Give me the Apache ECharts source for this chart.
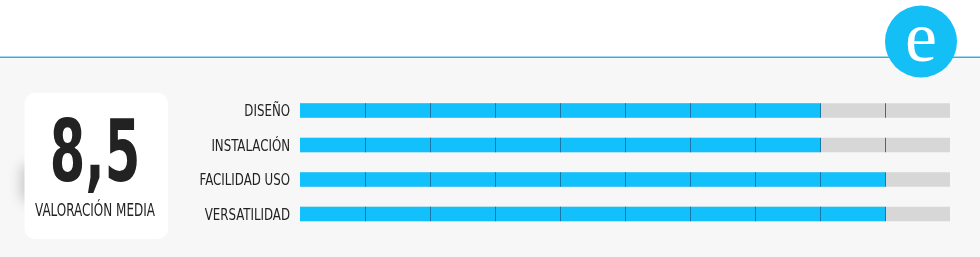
<!DOCTYPE html>
<html>
<head>
<meta charset="utf-8">
<script src="https://cdn.jsdelivr.net/npm/echarts@6/dist/echarts.min.js"></script>
<style>
html,body{margin:0;padding:0;background:#fff;}
#chart{width:980px;height:257px;}
</style>
</head>
<body>
<div id="chart"></div>
<script>
const categories = ['DISEÑO', 'INSTALACIÓN', 'FACILIDAD USO', 'VERSATILIDAD'];
const scores = [8, 8, 9, 9];
const maxScore = 10;
const averageLabel = '8,5';
const averageCaption = 'VALORACIÓN MEDIA';
const badgeLetter = 'e';

const chart = echarts.init(document.getElementById('chart'), null, {renderer: 'canvas'});
const condensed = '"DejaVu Sans Condensed", "DejaVu Sans", sans-serif';

const option = {
  animation: false,
  backgroundColor: '#ffffff',
  grid: {left: 300, right: 30, top: 93.25, height: 138, containLabel: false},
  xAxis: {type: 'value', min: 0, max: maxScore, show: false, splitLine: {show: false}},
  yAxis: {
    type: 'category', data: categories, inverse: true,
    axisLine: {show: false}, axisTick: {show: false}, splitLine: {show: false},
    axisLabel: {show: false}
  },
  graphic: [
    {type: 'rect', z: -10, silent: true, shape: {x: 0, y: 58, width: 980, height: 199}, style: {fill: '#f7f7f7'}},
    {type: 'rect', z: -9, silent: true, shape: {x: 0, y: 56, width: 980, height: 1}, style: {fill: '#9fd9ef'}},
    {type: 'rect', z: -9, silent: true, shape: {x: 0, y: 57, width: 980, height: 1}, style: {fill: '#2fb0e0'}},
    {type: 'rect', z: -4, silent: true, shape: {x: 30, y: 165, width: 20, height: 36, r: 4}, style: {fill: '#ffffff', shadowBlur: 14, shadowOffsetX: -8, shadowColor: 'rgba(0,0,0,0.22)'}},
    {type: 'rect', z: -3, silent: true, shape: {x: 24.5, y: 93, width: 143.5, height: 146, r: 10}, style: {fill: '#ffffff'}},
    {type: 'text', z: 5, silent: true, x: 95, y: 159, scaleX: 0.66,
      style: {text: averageLabel, fill: '#222222', font: 'bold 86px ' + condensed, textAlign: 'center', textVerticalAlign: 'middle'}},
    {type: 'text', z: 5, silent: true, x: 95, y: 211, scaleX: 0.74,
      style: {text: averageCaption, fill: '#222222', font: '18px ' + condensed, textAlign: 'center', textVerticalAlign: 'middle'}},
    {type: 'circle', z: 5, silent: true, shape: {cx: 921, cy: 41.5, r: 36}, style: {fill: '#14bff6'}},
    {type: 'text', z: 6, silent: true, x: 921, y: 42,
      style: {text: badgeLetter, fill: '#ffffff', font: '72px "Liberation Serif", serif', textAlign: 'center', textVerticalAlign: 'middle'}}
  ],
  series: [{
    type: 'custom',
    encode: {x: 0, y: 1},
    data: scores.map((v, i) => [v, i]),
    renderItem: function (params, api) {
      const score = api.value(0);
      const idx = api.value(1);
      const start = api.coord([0, idx]);
      const end = api.coord([maxScore, idx]);
      const fillEnd = api.coord([score, idx]);
      const h = api.size([0, 1])[1] * 0.42;
      const top = start[1] - h / 2;
      const children = [
        {type: 'rect', shape: {x: start[0], y: top, width: end[0] - start[0], height: h}, style: {fill: '#d7d7d7'}},
        {type: 'rect', shape: {x: start[0], y: top, width: fillEnd[0] - start[0], height: h}, style: {fill: '#12c1fb'}},
        {type: 'text', x: start[0] - 10, y: start[1] + 1.5, scaleX: 0.82,
          style: {text: categories[idx], fill: '#222222', font: '16px ' + condensed, textAlign: 'right', textVerticalAlign: 'middle'}}
      ];
      for (let k = 1; k < maxScore; k++) {
        const x = Math.round(api.coord([k, idx])[0]) + 0.5;
        children.push({type: 'line', shape: {x1: x, y1: top, x2: x, y2: top + h}, style: {stroke: '#1a78a8', lineWidth: 1}});
      }
      return {type: 'group', children: children};
    }
  }]
};
chart.setOption(option);
</script>
</body>
</html>
